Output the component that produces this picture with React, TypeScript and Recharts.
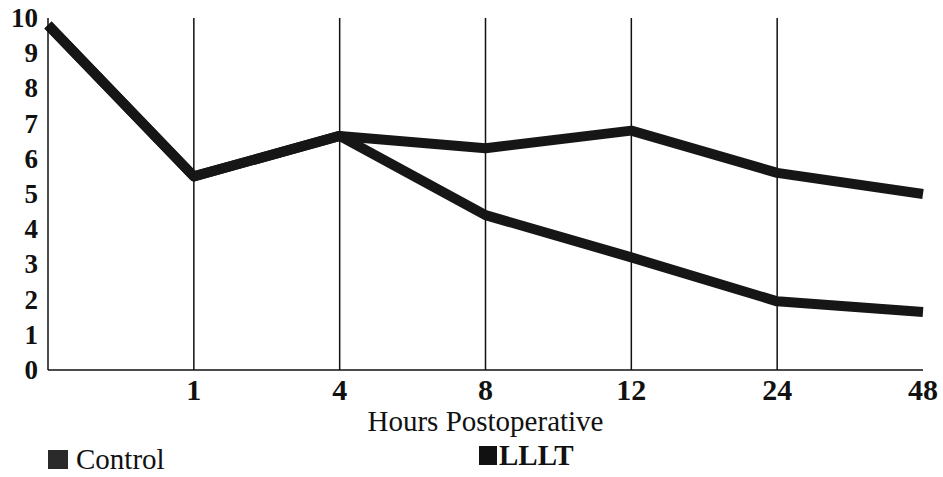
import React from "react";
import { LineChart, Line, XAxis, YAxis, ReferenceLine, Legend } from "recharts";

const hours = ["0", "1", "4", "8", "12", "24", "48"];
const control = [9.8, 5.5, 6.65, 6.3, 6.8, 5.6, 5.0];
const lllt = [9.8, 5.5, 6.65, 4.4, 3.2, 1.95, 1.65];
const yTicks = [0, 1, 2, 3, 4, 5, 6, 7, 8, 9, 10];
const gridHours = ["1", "4", "8", "12", "24"];

const data = hours.map((h, i) => ({ hour: h, Control: control[i], LLLT: lllt[i] }));

const FONT = "'Liberation Serif', 'DejaVu Serif', serif";

const XTick = (props: any) => {
  const { x, y, payload } = props;
  if (payload.value === "0") return null;
  return (
    <text x={x} y={y} dy={22} textAnchor="middle" fontFamily={FONT} fontSize={30} fontWeight="bold" fill="#111">
      {payload.value}
    </text>
  );
};

const YTick = (props: any) => {
  const { x, y, payload } = props;
  return (
    <text x={x} y={y} dy={9} textAnchor="end" fontFamily={FONT} fontSize={27} fontWeight="bold" fill="#111">
      {payload.value}
    </text>
  );
};

const LegendContent = () => (
  <div style={{ position: "relative", width: 943, height: 31, fontFamily: FONT, fontSize: 29, lineHeight: "31px", color: "#111" }}>
    <div style={{ position: "absolute", left: 48, top: 0, display: "flex", alignItems: "center" }}>
      <span style={{ display: "inline-block", width: 20, height: 19, background: "#2a2a2a", marginRight: 8 }} />
      <span>Control</span>
    </div>
    <div style={{ position: "absolute", left: 479, top: -4, display: "flex", alignItems: "center" }}>
      <span style={{ display: "inline-block", width: 18, height: 19, background: "#111", marginRight: 2 }} />
      <span style={{ fontWeight: "bold" }}>LLLT</span>
    </div>
  </div>
);

export default function App() {
  return (
    <div style={{ position: "fixed", left: 0, top: 0, width: 943, height: 477, background: "#fff" }}>
      <LineChart width={943} height={477} data={data} margin={{ top: 18, right: 20, left: 0, bottom: 0 }}>
        {gridHours.map((h) => (
          <ReferenceLine key={h} x={h} stroke="#111" strokeWidth={1.5} ifOverflow="visible" />
        ))}
        <XAxis
          dataKey="hour"
          type="category"
          padding={{ left: 0, right: 0 }}
          height={76}
          axisLine={{ stroke: "#111", strokeWidth: 1.5 }}
          tickLine={false}
          tickMargin={2}
          interval={0}
          tick={<XTick />}
          label={{ value: "Hours Postoperative", position: "insideTop", offset: 40, style: { fontFamily: FONT, fontSize: 29, fill: "#111" } }}
        />
        <YAxis
          domain={[0, 10]}
          ticks={yTicks}
          width={48}
          axisLine={{ stroke: "#111", strokeWidth: 1.5 }}
          tickLine={false}
          tickMargin={4}
          interval={0}
          tick={<YTick />}
        />
        <Legend content={<LegendContent />} wrapperStyle={{ position: "absolute", left: 0, top: 444, width: 943, height: 31 }} />
        <Line type="linear" dataKey="Control" stroke="#161616" strokeWidth={10} dot={false} isAnimationActive={false} strokeLinejoin="round" />
        <Line type="linear" dataKey="LLLT" stroke="#161616" strokeWidth={10} dot={false} isAnimationActive={false} strokeLinejoin="round" />
      </LineChart>
    </div>
  );
}
